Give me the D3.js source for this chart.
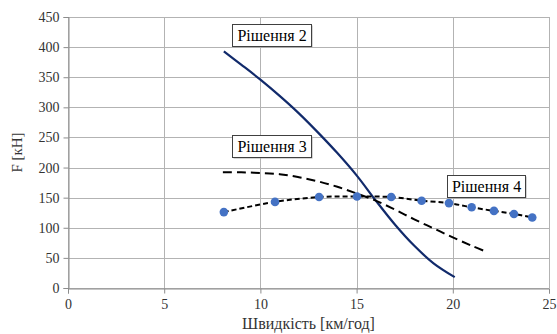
<!DOCTYPE html>
<html>
<head>
<meta charset="utf-8">
<script src="https://cdn.jsdelivr.net/npm/d3@7"></script>
<style>
  body { margin: 0; background: #fff; }
</style>
</head>
<body>
<div id="chart"></div>
<script>
// Рішення 2 (solid), Рішення 3 (long dash), Рішення 4 (short dash + markers)
var xTicks = [0, 5, 10, 15, 20, 25];
var yTicks = [0, 50, 100, 150, 200, 250, 300, 350, 400, 450];

var s2x = [8.1, 9, 10, 11, 12, 13, 14, 15, 16, 17, 18, 19, 20.1];
var s2y = [393, 371, 346, 319, 290, 258, 224, 187, 145, 105, 70, 41, 18];

var s3x = [8.05, 9, 10, 11, 12, 13, 14, 15, 16, 17, 18, 19, 20, 21, 21.75];
var s3y = [192, 192, 191, 189, 184, 177, 168, 157, 145, 130, 114, 99, 84, 70, 60];

var s4x = [8.1, 10.76, 13.05, 15.02, 16.8, 18.38, 19.8, 20.98, 22.14, 23.18, 24.13];
var s4y = [126, 143, 151, 152, 151, 145, 141, 134, 128, 123, 117];

var labels = ["Рішення 2", "Рішення 3", "Рішення 4"];

var width = 557, height = 334;
var margin = {left: 68, right: 8, top: 17, bottom: 46};
var serif = "'Liberation Serif'";

var svg = d3.select('#chart').append('svg')
  .attr('width', width)
  .attr('height', height);

var x = d3.scaleLinear().domain([0, 25]).range([margin.left, width - margin.right]);
var y = d3.scaleLinear().domain([0, 450]).range([height - margin.bottom, margin.top]);

// grid
svg.append('g').selectAll('line.h')
  .data(yTicks).enter().append('line')
  .attr('x1', x(0)).attr('x2', x(25))
  .attr('y1', function(d) { return Math.round(y(d)) + 0.5; })
  .attr('y2', function(d) { return Math.round(y(d)) + 0.5; })
  .style('stroke', '#b3b3b3').style('stroke-width', 1);

svg.append('g').selectAll('line.v')
  .data(xTicks).enter().append('line')
  .attr('y1', y(0)).attr('y2', y(450))
  .attr('x1', function(d) { return Math.round(x(d)) + 0.5; })
  .attr('x2', function(d) { return Math.round(x(d)) + 0.5; })
  .style('stroke', '#b3b3b3').style('stroke-width', 1);

// axes
var yAxis = svg.append('g')
  .attr('transform', 'translate(' + (Math.round(x(0)) + 0.5) + ',0)')
  .call(d3.axisLeft(y).tickValues(yTicks).tickSize(5).tickPadding(4));
var xAxis = svg.append('g')
  .attr('transform', 'translate(0,' + (Math.round(y(0)) + 0.5) + ')')
  .call(d3.axisBottom(x).tickValues(xTicks).tickSize(5).tickPadding(6));
[yAxis, xAxis].forEach(function(a) {
  a.select('.domain').style('stroke', '#8c8c8c');
  a.selectAll('.tick line').style('stroke', '#8c8c8c');
  a.selectAll('.tick text')
    .style('font-family', serif)
    .style('font-size', '14px')
    .style('fill', '#333');
});

// lines
var line = d3.line()
  .x(function(d) { return x(d[0]); })
  .y(function(d) { return y(d[1]); })
  .curve(d3.curveCatmullRom);

svg.append('path')
  .datum(d3.zip(s2x, s2y))
  .attr('d', line)
  .style('fill', 'none')
  .style('stroke', '#112a6b')
  .style('stroke-width', 2.2);

svg.append('path')
  .datum(d3.zip(s3x, s3y))
  .attr('d', line)
  .style('fill', 'none')
  .style('stroke', '#000')
  .style('stroke-width', 2)
  .style('stroke-dasharray', '9,5');

svg.append('path')
  .datum(d3.zip(s4x, s4y))
  .attr('d', line)
  .style('fill', 'none')
  .style('stroke', '#000')
  .style('stroke-width', 2)
  .style('stroke-dasharray', '5,3');

svg.append('g').selectAll('circle')
  .data(d3.zip(s4x, s4y)).enter().append('circle')
  .attr('cx', function(d) { return x(d[0]); })
  .attr('cy', function(d) { return y(d[1]); })
  .attr('r', 4.3)
  .style('fill', '#4472c4');

// label boxes
var boxes = [
  {t: labels[0], x: 232, y: 24, w: 79, h: 22},
  {t: labels[1], x: 232, y: 135, w: 79, h: 22},
  {t: labels[2], x: 447, y: 175, w: 78, h: 22}
];
var bx = svg.append('g').selectAll('g')
  .data(boxes).enter().append('g')
  .attr('transform', function(d) { return 'translate(' + d.x + ',' + d.y + ')'; });
bx.append('rect')
  .attr('x', 1.5).attr('y', 1.5)
  .attr('width', function(d) { return d.w; })
  .attr('height', function(d) { return d.h; })
  .style('fill', '#aaa');
bx.append('rect')
  .attr('x', 0.5).attr('y', 0.5)
  .attr('width', function(d) { return d.w; })
  .attr('height', function(d) { return d.h; })
  .style('fill', '#fff')
  .style('stroke', '#404040')
  .style('stroke-width', 1);
bx.append('text')
  .attr('x', function(d) { return d.w / 2 + 0.5; })
  .attr('y', 16.5)
  .style('text-anchor', 'middle')
  .style('font-family', serif)
  .style('font-size', '16px')
  .style('fill', '#000')
  .text(function(d) { return d.t; });

// axis titles
svg.append('text')
  .attr('transform', 'translate(22,' + ((y(0) + y(450)) / 2) + ') rotate(-90)')
  .style('text-anchor', 'middle')
  .style('font-family', serif)
  .style('font-size', '15px')
  .style('fill', '#333')
  .text('F [кН]');

svg.append('text')
  .attr('x', (x(0) + x(25)) / 2)
  .attr('y', 329)
  .style('text-anchor', 'middle')
  .style('font-family', serif)
  .style('font-size', '16px')
  .style('fill', '#333')
  .text('Швидкість [км/год]');
</script>
</body>
</html>
